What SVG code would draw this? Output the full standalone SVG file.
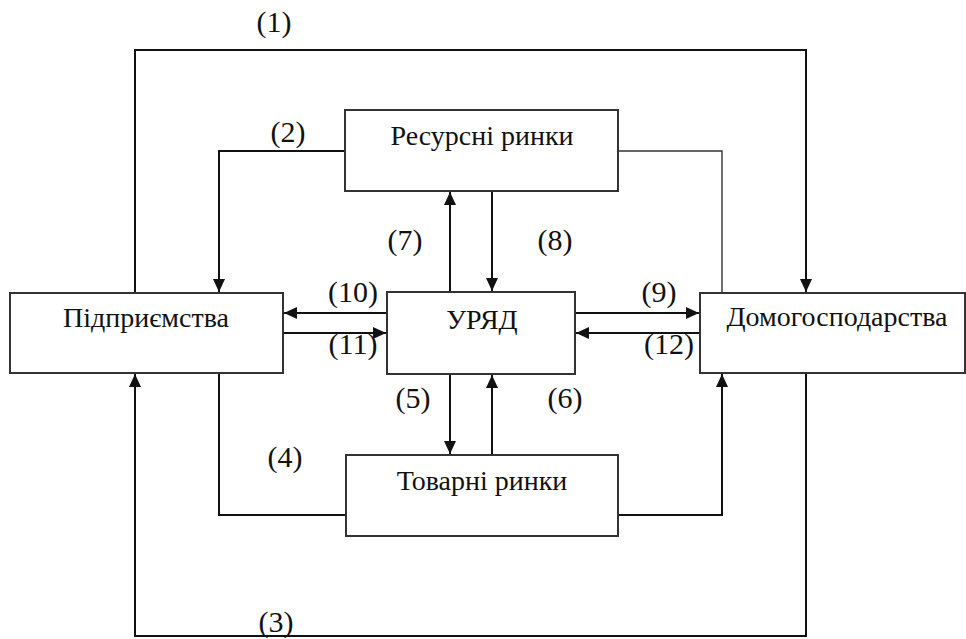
<svg xmlns="http://www.w3.org/2000/svg" width="966" height="639" viewBox="0 0 966 639">
<defs>
<marker id="ah" viewBox="0 0 13 12" refX="13" refY="6" markerWidth="13" markerHeight="12" markerUnits="userSpaceOnUse" orient="auto">
<path d="M0,0 L13,6 L0,12 Z" fill="#111"/>
</marker>
</defs>
<style>
.box{fill:#fff;stroke:#333;stroke-width:2}
.t{font-family:'Liberation Serif','Times New Roman',serif;font-size:28px;fill:#111;text-anchor:middle}
.l{font-family:'Liberation Serif','Times New Roman',serif;font-size:30px;fill:#111;text-anchor:middle}
.c{fill:none;stroke:#111;stroke-width:2}
.a{marker-end:url(#ah)}
.thin{fill:none;stroke:#333;stroke-width:1.4}
</style>
<rect width="966" height="639" fill="#fff"/>
<g id="connectors">
<path class="c a" d="M135,293 V50 H806 V292"/>
<path class="c a" d="M345,151 H219 V292"/>
<path class="thin" d="M618,151 H722 V293"/>
<path class="c" d="M219,373 V515 H346"/>
<path class="c a" d="M618,515 H722 V374"/>
<path class="c a" d="M806,373 V636 H135 V374"/>
<path class="c a" d="M450,292 V192"/>
<path class="c a" d="M492,191 V291"/>
<path class="c a" d="M450,374 V454"/>
<path class="c a" d="M492,455 V375"/>
<path class="c a" d="M387,313 H284"/>
<path class="c a" d="M283,333 H386"/>
<path class="c a" d="M575,313 H699"/>
<path class="c a" d="M700,333 H576"/>
</g>
<g id="labels">
<text class="l" x="274" y="32">(1)</text>
<text class="l" x="288" y="142">(2)</text>
<text class="l" x="276" y="632">(3)</text>
<text class="l" x="285" y="467">(4)</text>
<text class="l" x="413" y="408">(5)</text>
<text class="l" x="565" y="408">(6)</text>
<text class="l" x="405" y="250">(7)</text>
<text class="l" x="555" y="250">(8)</text>
<text class="l" x="659" y="302">(9)</text>
<text class="l" x="353" y="302">(10)</text>
<text class="l" x="353" y="354">(11)</text>
<text class="l" x="669" y="354">(12)</text>
</g>
<g id="resource">
<rect class="box" x="345" y="110" width="273" height="81"/>
<text class="t" x="482" y="145">Ресурсні ринки</text>
</g>
<g id="firms">
<rect class="box" x="10" y="293" width="273" height="80"/>
<text class="t" x="146" y="327">Підприємства</text>
</g>
<g id="government">
<rect class="box" x="387" y="292" width="188" height="82"/>
<text class="t" x="482" y="329">УРЯД</text>
</g>
<g id="households">
<rect class="box" x="700" y="293" width="265" height="80"/>
<text class="t" x="837" y="326">Домогосподарства</text>
</g>
<g id="goods">
<rect class="box" x="346" y="455" width="272" height="81"/>
<text class="t" x="482" y="490">Товарні ринки</text>
</g>
</svg>
